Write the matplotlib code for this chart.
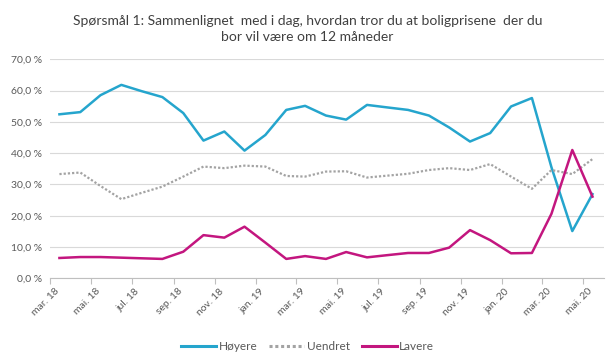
import matplotlib
matplotlib.use("Agg")
import matplotlib.pyplot as plt
import matplotlib.transforms as mtransforms
import datetime as dt

plt.rcParams['font.family'] = ['Lato', 'DejaVu Sans']

title = "Spørsmål 1: Sammenlignet  med i dag, hvordan tror du at boligprisene  der du\nbor vil være om 12 måneder"

months = ["2018-03", "2018-04", "2018-05", "2018-06", "2018-07", "2018-08", "2018-09",
          "2018-10", "2018-11", "2018-12", "2019-01", "2019-02", "2019-03", "2019-04",
          "2019-05", "2019-06", "2019-07", "2019-08", "2019-09", "2019-10", "2019-11",
          "2019-12", "2020-01", "2020-02", "2020-03", "2020-04", "2020-05"]

hoyere = [52.4, 53.1, 58.5, 61.8, 59.8, 57.9, 52.8, 44.0, 46.9, 40.8, 45.8, 53.8, 55.1,
          52.0, 50.7, 55.4, 54.6, 53.8, 52.0, 48.2, 43.7, 46.4, 54.9, 57.6, 35.5, 15.1, 26.9]
uendret = [33.3, 33.8, 29.5, 25.3, 27.3, 29.3, 32.5, 35.7, 35.2, 36.0, 35.7, 32.7, 32.5,
           34.1, 34.2, 32.2, 32.8, 33.4, 34.6, 35.2, 34.6, 36.5, 32.5, 28.6, 34.6, 33.3, 38.1]
lavere = [6.5, 6.8, 6.8, 6.6, 6.4, 6.2, 8.5, 13.8, 13.0, 16.5, 11.4, 6.2, 7.1,
          6.2, 8.4, 6.7, 7.4, 8.1, 8.1, 9.8, 15.4, 12.2, 8.0, 8.1, 20.6, 41.0, 26.1]

series_names = ["Høyere", "Uendret", "Lavere"]

tick_months = ["2018-03", "2018-05", "2018-07", "2018-09", "2018-11", "2019-01", "2019-03",
               "2019-05", "2019-07", "2019-09", "2019-11", "2020-01", "2020-03", "2020-05"]
tick_labels = ["mar. 18", "mai. 18", "jul. 18", "sep. 18", "nov. 18", "jan. 19", "mar. 19",
               "mai. 19", "jul. 19", "sep. 19", "nov. 19", "jan. 20", "mar. 20", "mai. 20"]

y_ticks = [0, 10, 20, 30, 40, 50, 60, 70]
y_labels = ["0,0 %", "10,0 %", "20,0 %", "30,0 %", "40,0 %", "50,0 %", "60,0 %", "70,0 %"]

def mid(m):
    y, mo = map(int, m.split("-"))
    return dt.date(y, mo, 15)

def first(m):
    y, mo = map(int, m.split("-"))
    return dt.date(y, mo, 1)

x = [mid(m) for m in months]

fig = plt.figure(figsize=(6.15, 3.61), dpi=100)
ax = fig.add_axes([0.0813, 0.229, 0.9007, 0.607])

c_blue = "#25A5CD"
c_grey = "#A3A3A3"
c_mag = "#C3167F"

l1, = ax.plot(x, hoyere, color=c_blue, lw=1.8, label=series_names[0])
l2, = ax.plot(x, uendret, color=c_grey, lw=1.6, linestyle=(0, (1.0, 0.9)),
              dash_capstyle='butt', label=series_names[1])
l3, = ax.plot(x, lavere, color=c_mag, lw=1.8, label=series_names[2])

ax.set_ylim(0, 70)
ax.set_xlim(dt.date(2018, 3, 1), dt.date(2020, 6, 1))
ax.set_yticks(y_ticks)
ax.set_yticklabels(y_labels, fontsize=7.5, color="#595959")
ax.grid(axis='y', color="#D9D9D9", lw=0.8)
ax.set_axisbelow(True)
ax.tick_params(axis='y', length=0, pad=6)

ax.set_xticks([first(m) for m in tick_months])
ax.set_xticklabels(tick_labels, fontsize=7.5, color="#595959", rotation=45, ha='center')
ax.tick_params(axis='x', length=4, color="#BFBFBF", width=0.8, pad=2)
offset = mtransforms.ScaledTranslation(-3 / 72, 0, fig.dpi_scale_trans)
for lab in ax.get_xticklabels():
    lab.set_transform(lab.get_transform() + offset)

for s in ["top", "right", "left"]:
    ax.spines[s].set_visible(False)
ax.spines["bottom"].set_color("#BFBFBF")
ax.spines["bottom"].set_linewidth(0.8)

fig.text(0.5, 0.958, title, ha='center', va='top', fontsize=10, color="#404040",
         linespacing=1.4)

leg = fig.legend(handles=[l1, l2, l3], loc='center', bbox_to_anchor=(0.5, 0.04), ncol=3,
                 frameon=False, fontsize=8.5, handlelength=3.0, handletextpad=0.2,
                 columnspacing=1.0, labelcolor="#595959")
for h in leg.legend_handles:
    h.set_linewidth(2.2)

fig.savefig("out.png", dpi=100, facecolor="white")
